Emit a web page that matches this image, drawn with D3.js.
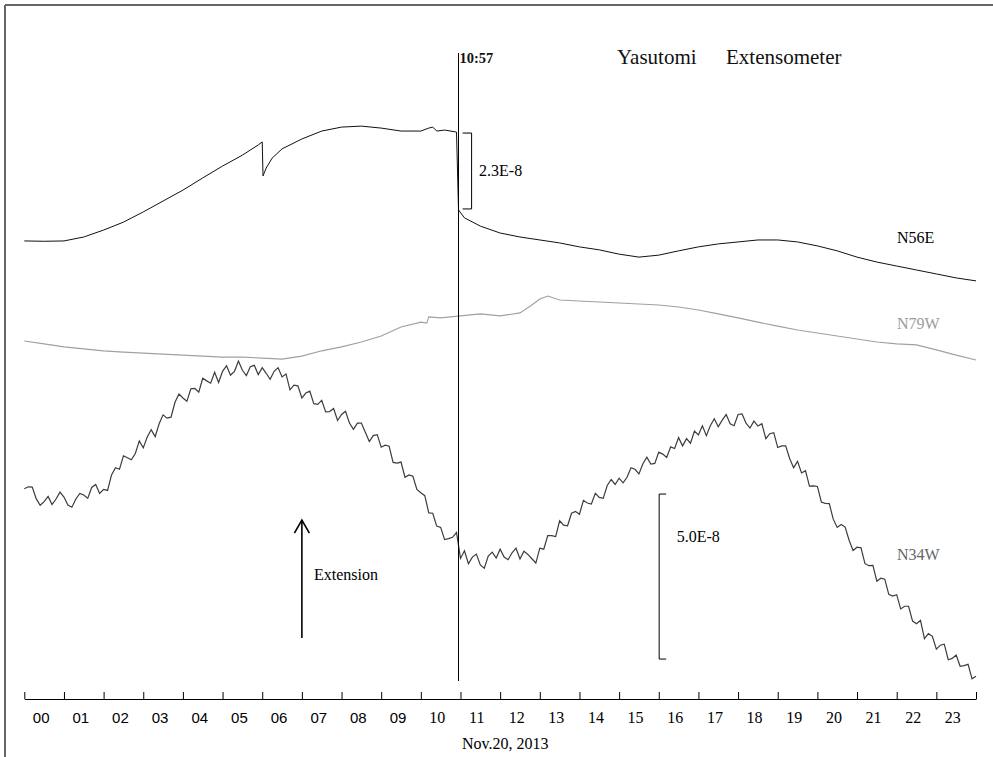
<!DOCTYPE html>
<html><head><meta charset="utf-8">
<script src="https://cdn.jsdelivr.net/npm/d3@7"></script>
<style>body{margin:0;background:#fff;overflow:hidden}</style>
</head><body><svg id="c" width="993" height="757"></svg>
<script>
// ---- data (strain in units of 1E-9, traces stacked on a common vertical axis) ----
const hourLabels = ["00","01","02","03","04","05","06","07","08","09","10","11","12","13","14","15","16","17","18","19","20","21","22","23"];
const eventHour = 10.95; // 10:57
const eventLabel = "10:57";
const dateLabel = "Nov.20, 2013";
const titleWords = ["Yasutomi", "Extensometer"];

const n56eHours = [0,0.5,1,1.5,2,2.5,3,3.5,4,4.5,5,5.5,5.9,6.0,6.02,6.1,6.25,6.5,7,7.5,8,8.5,9,9.5,10,10.2,10.3,10.4,10.6,10.9,10.95,11.1,11.5,12,12.5,13,13.5,14,14.5,15,15.5,16,16.5,17,17.5,18,18.5,19,19.5,20,20.5,21,21.5,22,22.5,23,23.5,24];
const n56eValues = [138.5,138.4,138.5,139.7,141.8,144.2,147.3,150.6,153.9,157.6,161.2,164.5,167.6,168.5,158.2,160.6,163.6,166.4,169.4,171.8,173.0,173.3,172.7,171.8,171.8,172.7,173.0,171.8,172.1,171.5,147.9,145.5,143.0,140.9,139.7,138.8,137.9,136.7,135.8,134.5,133.6,134.2,135.5,136.7,137.6,138.2,138.8,138.8,138.2,137.0,135.5,133.6,132.1,130.9,129.7,128.5,127.3,126.4];

const n79wHours = [0,0.5,1,1.5,2,2.5,3,3.5,4,4.5,5,5.5,6,6.5,7,7.5,8,8.5,9,9.5,10,10.15,10.2,10.5,11,11.5,12,12.5,12.8,13,13.2,13.5,14,14.5,15,15.5,16,16.5,17,17.5,18,18.5,19,19.5,20,20.5,21,21.5,22,22.5,23,23.5,24];
const n79wValues = [108.2,107.3,106.4,105.8,105.2,104.8,104.5,104.2,103.9,103.6,103.3,103.3,103.0,102.7,103.6,105.2,106.4,107.9,109.7,112.4,113.9,113.6,115.5,115.2,115.8,116.4,115.8,116.7,119.1,120.9,121.8,120.6,120.3,120.0,119.7,119.4,119.1,118.5,117.6,116.4,115.2,113.9,112.7,111.5,110.6,109.7,108.8,107.9,107.3,107.0,105.5,103.9,102.4];

const n34wStep = 0.1; // hours between samples, first sample at 00:00
const n34wValues = [
63.4,64.0,63.9,60.4,58.4, 59.5,61.1,58.6,60.3,62.4, 60.9,58.5,57.8,60.3,62.0, 61.5,60.5,63.8,64.7,62.0,
63.2,62.9,67.6,69.8,69.3, 73.4,72.8,72.2,74.1,77.9, 75.8,79.1,81.3,79.2,83.1, 85.8,84.8,85.1,89.6,92.1,
90.9,89.9,93.7,93.8,92.7, 96.9,96.1,95.4,98.7,95.6, 99.0,100.7,97.8,99.0,102.1, 99.3,97.7,100.4,100.8,98.0,
100.1,98.4,96.6,99.0,100.1, 97.3,98.2,93.4,94.8,94.6, 90.9,92.4,93.0,89.2,89.0, 90.2,86.7,86.8,87.7,84.1,
85.9,86.9,83.3,81.4,83.3, 83.3,80.5,77.7,79.5,79.8, 76.0,76.6,76.3,71.4,71.2, 71.5,66.9,67.6,67.2,63.2,
62.2,61.3,56.1,56.0,52.1, 51.7,48.0,48.3,48.7,50.2, 42.3,44.6,40.7,42.7,43.6, 40.3,39.3,43.0,44.2,42.4,
45.1,42.7,41.9,44.0,45.4, 42.1,44.5,43.5,42.2,40.9, 45.4,45.1,49.2,49.2,48.9, 53.7,52.4,52.2,56.0,56.5,
55.7,59.9,59.1,58.8,62.0, 60.8,60.5,64.4,66.2,64.7, 66.6,65.2,66.9,69.8,69.3, 67.9,71.0,73.0,70.9,71.1,
74.5,73.9,72.9,76.1,75.6, 78.9,76.4,78.6,77.2,80.9, 79.7,82.5,79.5,82.5,84.6, 82.2,84.2,85.9,83.1,82.5,
85.9,86.1,83.3,81.8,83.9, 82.4,83.1,78.6,80.1,80.4, 75.9,76.4,76.4,72.6,69.8, 71.7,68.2,68.9,64.2,64.3,
64.1,59.4,59.0,58.9,54.2, 51.7,52.6,51.8,47.8,44.7, 45.7,45.5,40.7,40.1,40.2, 35.4,36.3,36.0,31.4,30.9,
31.3,27.0,27.8,27.8,23.3, 22.5,23.5,18.0,19.5,18.7, 14.8,16.0,16.3,11.6,12.0, 13.0,9.6,9.8,10.2,5.8,
6.6];

const seriesNames = ["N56E","N79W","N34W"];
// scale bars
const scaleBarLabels = ["2.3E-8","5.0E-8"];
const scaleBarLengths = [23, 50];
const scaleBarHours = [11.28, 16.01];
const scaleBarTops = [171.2, 61.8];
const arrowHour = 7.0;
const arrowValues = [18.2, 53.9];

// ---- drawing ----
const svg = d3.select("#c");
const W = 993, H = 757;
const x = d3.scaleLinear().domain([0, 24]).range([24.3, 976]);
const y = d3.scaleLinear().domain([0, 200]).range([698, 38]);
const serif = "'Liberation Serif','Times New Roman',serif";

// frame
svg.append("line").attr("x1",5).attr("y1",5).attr("x2",W).attr("y2",5).attr("stroke","#666").attr("stroke-width",2);
svg.append("line").attr("x1",5).attr("y1",5).attr("x2",5).attr("y2",H).attr("stroke","#666").attr("stroke-width",2);

const line = d3.line().x(d => x(d[0])).y(d => y(d[1]));

const n56e = n56eHours.map((h,i) => [h, n56eValues[i]]);
const n79w = n79wHours.map((h,i) => [h, n79wValues[i]]);
const n34w = n34wValues.map((v,i) => [i*n34wStep, v]);

svg.append("path").datum(n79w).attr("d", line).attr("fill","none").attr("stroke","#a0a0a0").attr("stroke-width",1.1);
svg.append("path").datum(n34w).attr("d", line).attr("fill","none").attr("stroke","#3c3c3c").attr("stroke-width",1.2);
svg.append("path").datum(n56e).attr("d", line).attr("fill","none").attr("stroke","#111").attr("stroke-width",1);

// event line
svg.append("line").attr("x1", x(eventHour)).attr("x2", x(eventHour))
  .attr("y1", 53).attr("y2", 681).attr("stroke","#000").attr("stroke-width",1);
svg.append("text").attr("x", x(eventHour)+1).attr("y", 63).text(eventLabel)
  .attr("font-family", serif).attr("font-size", 14.5).attr("font-weight", "bold").attr("fill","#111");

// title
svg.append("text").attr("x", 617).attr("y", 64).attr("font-family", serif).attr("font-size", 21).attr("fill","#111")
  .selectAll("tspan").data(titleWords).join("tspan").attr("x", (d,i) => i===0 ? 617 : 726).text(d => d);

// scale bars
scaleBarLabels.forEach((lab, i) => {
  const top = y(scaleBarTops[i]), bot = y(scaleBarTops[i] - scaleBarLengths[i]);
  const bx = x(scaleBarHours[i]);
  const dir = i === 0 ? -9 : 7;
  svg.append("path").attr("d", `M${bx+dir},${top}H${bx}V${bot}H${bx+dir}`)
    .attr("fill","none").attr("stroke","#000").attr("stroke-width",1);
  if (i === 0) {
    svg.append("text").attr("x", bx+7.5).attr("y", (top+bot)/2 + 5).text(lab)
      .attr("font-family", serif).attr("font-size", 16).attr("fill","#000");
  } else {
    svg.append("text").attr("x", bx+17.5).attr("y", top + 48).text(lab)
      .attr("font-family", serif).attr("font-size", 16).attr("fill","#000");
  }
});

// extension arrow
const ax = x(arrowHour), ay1 = y(arrowValues[0]), ay2 = y(arrowValues[1]);
svg.append("line").attr("x1", ax).attr("x2", ax).attr("y1", ay1).attr("y2", ay2).attr("stroke","#000").attr("stroke-width",1.6);
svg.append("path").attr("d", `M${ax-7.5},${ay2+13}L${ax},${ay2}L${ax+7.5},${ay2+13}`).attr("fill","none").attr("stroke","#000").attr("stroke-width",1.6);
svg.append("text").attr("x", 314).attr("y", 580).text("Extension").attr("font-family", serif).attr("font-size", 16).attr("fill","#000");

// series labels
const labelPos = [[897,243,"#000"],[897,329,"#9a9a9a"],[897,560,"#666"]];
seriesNames.forEach((n,i) => {
  svg.append("text").attr("x", labelPos[i][0]).attr("y", labelPos[i][1]).text(n)
    .attr("font-family", serif).attr("font-size", 16).attr("fill", labelPos[i][2]);
});

// axis
const axis = d3.axisTop(x).tickValues(d3.range(0, 25)).tickSize(7).tickSizeOuter(0).tickFormat("");
const g = svg.append("g").attr("transform","translate(0,699)").call(axis);
g.selectAll("path,line").attr("stroke","#000");
svg.selectAll("text.hl").data(hourLabels).join("text").attr("class","hl")
  .attr("x", (d,i) => x(i) + 8.5).attr("y", 723).text(d => d)
  .attr("font-family", (d,i) => i < 10 ? "'Liberation Sans',Arial,sans-serif" : serif)
  .attr("font-size", (d,i) => i < 10 ? 15 : 16).attr("fill","#000");
svg.append("text").attr("x", 462).attr("y", 749).text(dateLabel).attr("font-family", serif).attr("font-size", 16).attr("fill","#000");
</script></body></html>
